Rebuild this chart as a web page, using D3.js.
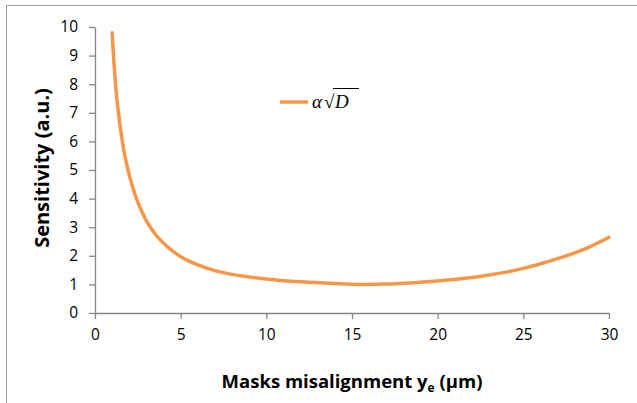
<!DOCTYPE html>
<html><head><meta charset="utf-8">
<script src="https://cdn.jsdelivr.net/npm/d3@7/dist/d3.min.js"></script>
<style>body{margin:0;background:#fff}svg{display:block}</style>
</head><body>
<svg id="c" width="637" height="403"></svg>
<script>
const xValues = [1,1.1,1.2,1.3,1.4,1.5,1.65,1.8,2,2.25,2.5,2.75,3,3.5,4,4.5,5,6,7,8,9,10,11,12,14,15.5,17,18,20,22,23,24,25,26,27,28,29,30];
const yValues = [9.8,8.8,8.0,7.35,6.85,6.4,5.8,5.34,4.82,4.3,3.88,3.53,3.22,2.77,2.44,2.18,1.97,1.68,1.48,1.35,1.26,1.19,1.13,1.09,1.03,1.0,1.01,1.04,1.12,1.24,1.33,1.43,1.56,1.72,1.9,2.1,2.35,2.65];
const xTicks = [0,5,10,15,20,25,30];
const yTicks = [0,1,2,3,4,5,6,7,8,9,10];

const svg = d3.select("#c");
const axisColor = "#868686";
const x = d3.scaleLinear().domain([0,30]).range([95,609]);
const y = d3.scaleLinear().domain([0,10]).range([313,27]);

svg.append("path").attr("d","M6.5,403 V5.5 H637").attr("fill","none").attr("stroke","#9a9a9a").attr("stroke-width",1);

const xa = svg.append("g").attr("transform",`translate(0,${y(0)})`)
  .call(d3.axisBottom(x).tickValues(xTicks).tickSize(6).tickSizeOuter(0).tickPadding(10));
const ya = svg.append("g").attr("transform",`translate(${x(0)},0)`)
  .call(d3.axisLeft(y).tickValues(yTicks).tickSize(6).tickSizeOuter(0).tickPadding(11));
[xa,ya].forEach(a=>{
  a.selectAll("path,line").attr("stroke",axisColor).attr("stroke-width",1.3);
  a.selectAll("text").attr("fill","#000").style("font-family","'Open Sans', sans-serif").style("font-size","15.5px");
});

const data = xValues.map((v,i)=>[v,yValues[i]]);
svg.append("path").datum(data)
  .attr("fill","none").attr("stroke","#F79646").attr("stroke-width",3.5).attr("stroke-linecap","round")
  .attr("d", d3.line().x(d=>x(d[0])).y(d=>y(d[1])).curve(d3.curveCatmullRom));

svg.append("text").attr("x",352).attr("y",388).attr("text-anchor","middle")
  .style("font-family","'Open Sans', sans-serif").style("font-size","18.5px").style("font-weight","bold")
  .html('Masks misalignment y<tspan dy="4" font-size="12">e</tspan><tspan dy="-4"> (μm)</tspan>');
svg.append("text").attr("transform","translate(49,168) rotate(-90)").attr("text-anchor","middle")
  .style("font-family","'Open Sans', sans-serif").style("font-size","20px").style("font-weight","bold")
  .text("Sensitivity (a.u.)");

svg.append("line").attr("x1",280).attr("x2",308).attr("y1",102).attr("y2",102)
  .attr("stroke","#F79646").attr("stroke-width",3.5);
const lg = svg.append("g").style("font-family","'Liberation Serif', serif").style("font-size","19px");
lg.append("text").attr("x",312).attr("y",108).style("font-style","italic").text("α");
lg.append("text").attr("x",324).attr("y",108).text("√");
lg.append("line").attr("x1",333).attr("x2",359).attr("y1",88.5).attr("y2",88.5).attr("stroke","#000").attr("stroke-width",1);
lg.append("text").attr("x",335).attr("y",108).style("font-style","italic").text("D");
</script>
</body></html>
